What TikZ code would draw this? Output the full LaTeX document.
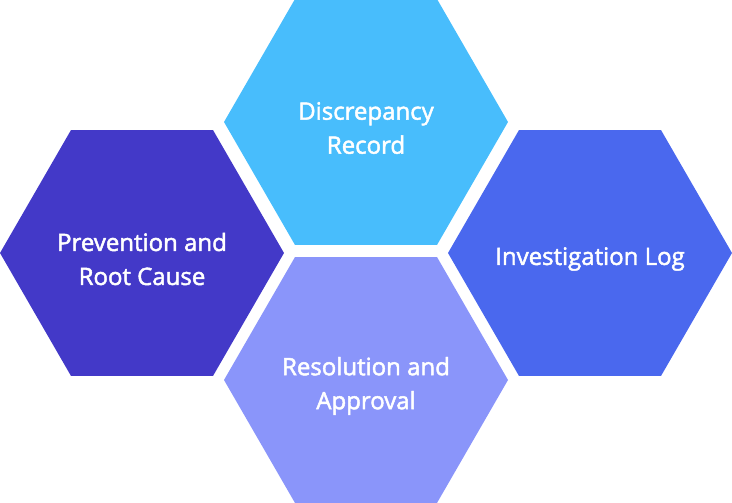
\documentclass[tikz,border=0pt]{standalone}
\usepackage{fontspec}
\setmainfont{Open Sans}
\newfontfamily\labelfont{Open Sans}[FakeBold=2]
\usetikzlibrary{shapes.geometric}
\definecolor{hexsky}{HTML}{48BDFC}
\definecolor{hexroyal}{HTML}{4A68EE}
\definecolor{hexindigo}{HTML}{4339C8}
\definecolor{hexlav}{HTML}{8A95FA}
\tikzset{
  hexcell/.style={regular polygon, regular polygon sides=6, shape border rotate=0,
    minimum size=284pt, inner sep=0pt, draw=none},
  hexlabel/.style={text=white, align=center, yshift=-6pt,
    font=\labelfont\fontsize{24}{34}\selectfont},
}
\begin{document}
\begin{tikzpicture}[x=1pt,y=1pt]
  \useasboundingbox (0,0) rectangle (732,503);

  \node [hexcell, fill=hexsky]    (record)     at (366,381) {};
  \node [hexcell, fill=hexroyal]  (log)        at (590,250) {};
  \node [hexcell, fill=hexindigo] (prevention) at (142,250) {};
  \node [hexcell, fill=hexlav]    (resolution) at (366,123) {};

  \node [hexlabel] (recordtext)     at (record)     {Discrepancy\\Record};
  \node [hexlabel] (logtext)        at (log)        {Investigation Log};
  \node [hexlabel] (preventiontext) at (prevention) {Prevention and\\Root Cause};
  \node [hexlabel] (resolutiontext) at (resolution) {Resolution and\\Approval};
\end{tikzpicture}
\end{document}
